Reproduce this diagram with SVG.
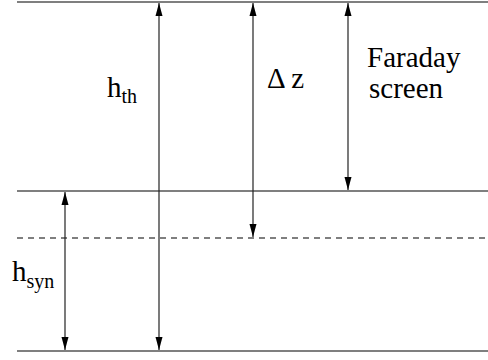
<svg xmlns="http://www.w3.org/2000/svg" width="488" height="360" viewBox="0 0 488 360">
<style>
.ln{stroke:#000;stroke-width:1.2;fill:none}
.dash{stroke:#000;stroke-width:1.2;fill:none;stroke-dasharray:6 5}
.ar{stroke:#222;stroke-width:1.2;fill:none;marker-start:url(#h);marker-end:url(#h)}
.big{font-size:29px;fill:#000}
.sub{font-size:20px}
</style>
<defs>
<marker id="h" viewBox="0 0 13 8" refX="13" refY="4" markerWidth="13" markerHeight="8" markerUnits="userSpaceOnUse" orient="auto-start-reverse">
<path d="M0,0.5 L13,4 L0,7.5 Z" fill="#000"/>
</marker>
</defs>
<g id="levels">
<line class="ln" x1="17" y1="2" x2="488" y2="2"/>
<line class="ln" x1="17" y1="191" x2="488" y2="191"/>
<line class="dash" x1="17" y1="238" x2="488" y2="238"/>
<line class="ln" x1="17" y1="351" x2="488" y2="351"/>
</g>
<g id="connectors">
<line class="ar" x1="159" y1="3" x2="159" y2="350"/>
<line class="ar" x1="253" y1="3" x2="253" y2="237"/>
<line class="ar" x1="348" y1="3" x2="348" y2="190"/>
<line class="ar" x1="65" y1="192" x2="65" y2="350"/>
</g>
<g font-family="Times New Roman, Liberation Serif, DejaVu Serif, serif">
<g id="h_th"><text class="big" x="107" y="97">h<tspan class="sub" y="103">th</tspan></text></g>
<g id="delta_z"><text class="big" x="267" y="88">Δ z</text></g>
<g id="faraday"><text class="big" x="367" y="67">Faraday</text><text class="big" x="369" y="98">screen</text></g>
<g id="h_syn"><text class="big" x="12" y="281">h<tspan class="sub" y="288">syn</tspan></text></g>
</g>
</svg>
